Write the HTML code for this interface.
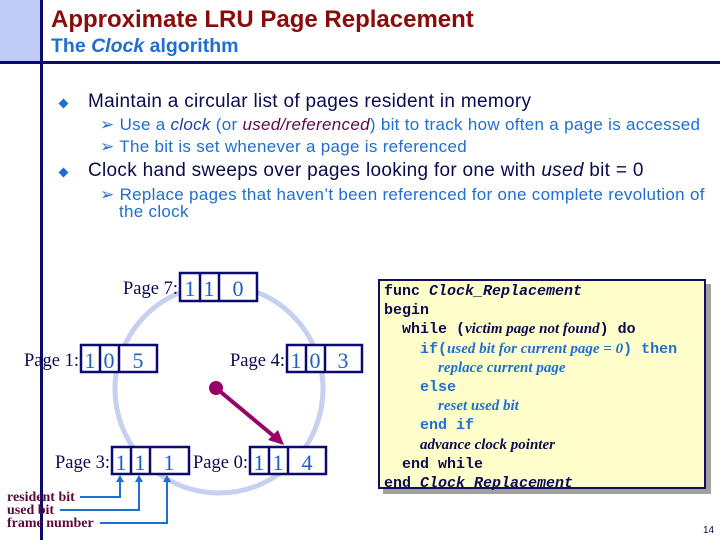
<!DOCTYPE html>
<html><head><meta charset="utf-8"><style>
body{margin:0;width:720px;height:540px;background:#fff;position:relative;overflow:hidden;font-family:"Liberation Sans",sans-serif}
.a{position:absolute;white-space:nowrap}
.t{color:#8b0a0a;font-size:24px;font-weight:bold;left:51px;top:6px}
.st{color:#1e6fd0;font-size:19.5px;font-weight:bold;left:51px;top:35px}
.b1{color:#0a0a50;font-size:19px;letter-spacing:.3px}
.b2{color:#1e6fd0;font-size:17px;letter-spacing:.3px}
.dia{position:absolute;width:7px;height:7px;background:#1e6fd0;transform:rotate(45deg)}
.code{position:absolute;left:378px;top:279px;width:328px;height:210px;background:#ffffcc;border:2px solid #101060;box-shadow:5px 5px 0 #a0a0a0;font-family:"Liberation Mono",monospace;font-weight:bold;font-size:15px;color:#0a0a50;line-height:19.2px;padding:1px 0 0 4px;box-sizing:border-box}
.code div{white-space:pre}
.ser{font-family:"Liberation Serif",serif;font-style:italic;font-weight:bold;font-size:15px}
.bl{color:#1e6fd0}
</style></head><body>
<div class="a" style="left:0;top:0;width:40px;height:61px;background:#c0ccf4;border-right:3px solid #0a0a70;border-bottom:3px solid #0a0a70"></div>
<div class="a" style="left:40px;top:61px;width:680px;height:3px;background:#0a0a70"></div>
<div class="a" style="left:40px;top:61px;width:3px;height:479px;background:#0a0a70"></div>
<div class="a t">Approximate LRU Page Replacement</div>
<div class="a st">The <i>Clock</i> algorithm</div>
<div class="dia" style="left:60px;top:100px"></div>
<div class="a b1" style="left:88px;top:91px">Maintain a circular list of pages resident in memory</div>
<div class="a b2" style="left:100px;top:115px">➢ Use a <i style="color:#1e3fa0">clock</i> (or <i style="color:#5a0a4a">used/referenced</i>) bit to track how often a page is accessed</div>
<div class="a b2" style="left:100px;top:137px">➢ The bit is set whenever a page is referenced</div>
<div class="dia" style="left:60px;top:169px"></div>
<div class="a b1" style="left:88px;top:160px">Clock hand sweeps over pages looking for one with <i>used</i> bit = 0</div>
<div class="a b2" style="left:100px;top:185px">➢ Replace pages that haven’t been referenced for one complete revolution of</div>
<div class="a b2" style="left:119px;top:202px">the clock</div>
<svg class="a" style="left:0;top:0" width="720" height="540" font-family="Liberation Serif,serif">
<circle cx="219" cy="389" r="104" fill="none" stroke="#c8d0f2" stroke-width="5"/>
<g fill="#fff" stroke="#0a0a70" stroke-width="2.5">
<rect x="180" y="273" width="77" height="28"/><line x1="200" y1="273" x2="200" y2="301"/><line x1="219" y1="273" x2="219" y2="301"/>
<rect x="81" y="345" width="76" height="27"/><line x1="100" y1="345" x2="100" y2="372"/><line x1="119" y1="345" x2="119" y2="372"/>
<rect x="287" y="345" width="75" height="27"/><line x1="306" y1="345" x2="306" y2="372"/><line x1="325" y1="345" x2="325" y2="372"/>
<rect x="112" y="447" width="77" height="27"/><line x1="131" y1="447" x2="131" y2="474"/><line x1="150" y1="447" x2="150" y2="474"/>
<rect x="250" y="447" width="76" height="27"/><line x1="269" y1="447" x2="269" y2="474"/><line x1="288" y1="447" x2="288" y2="474"/>
</g>
<g fill="#0a0a50" font-size="18.5" text-anchor="end">
<text x="178" y="294">Page 7:</text><text x="79" y="366">Page 1:</text><text x="285" y="366">Page 4:</text><text x="110" y="468">Page 3:</text><text x="248" y="468">Page 0:</text>
</g>
<g fill="#1e5fc0" font-size="22" text-anchor="middle">
<text x="190" y="296">1</text><text x="209" y="296">1</text><text x="238" y="296">0</text>
<text x="90" y="368">1</text><text x="109" y="368">0</text><text x="138" y="368">5</text>
<text x="296" y="368">1</text><text x="315" y="368">0</text><text x="343" y="368">3</text>
<text x="121" y="470">1</text><text x="140" y="470">1</text><text x="169" y="470">1</text>
<text x="259" y="470">1</text><text x="278" y="470">1</text><text x="307" y="470">4</text>
</g>
<circle cx="216" cy="388" r="7" fill="#990066"/>
<line x1="216" y1="388" x2="276" y2="438" stroke="#990066" stroke-width="4"/>
<polygon points="284,445 268,440 278,430" fill="#990066"/>
<g stroke="#1e6fd0" stroke-width="2" fill="none">
<polyline points="80,497 120,497 120,480"/><polyline points="60,510 139,510 139,480"/><polyline points="100,523 167,523 167,480"/>
</g>
<g fill="#1e6fd0"><polygon points="116,482 124,482 120,475"/><polygon points="135,482 143,482 139,475"/><polygon points="163,482 171,482 167,475"/></g>
<g fill="#5a0a3a" font-size="14" font-weight="bold">
<text x="7" y="501">resident bit</text><text x="7" y="514">used bit</text><text x="7" y="527">frame number</text>
</g>
<text x="703" y="533" font-family="Liberation Sans,sans-serif" font-size="10" fill="#0a0a50">14</text>
</svg>
<div class="code">
<div>func <i>Clock_Replacement</i></div>
<div>begin</div>
<div style="padding-left:18px">while (<span class="ser">victim page not found</span>) do</div>
<div class="bl" style="padding-left:36px">if(<span class="ser">used bit for current page = 0</span>) then</div>
<div class="bl ser" style="padding-left:54px">replace current page</div>
<div class="bl" style="padding-left:36px">else</div>
<div class="bl ser" style="padding-left:54px">reset used bit</div>
<div class="bl" style="padding-left:36px">end if</div>
<div class="ser" style="padding-left:36px">advance clock pointer</div>
<div style="padding-left:18px">end while</div>
<div>end <i>Clock_Replacement</i></div>
</div>
</body></html>
